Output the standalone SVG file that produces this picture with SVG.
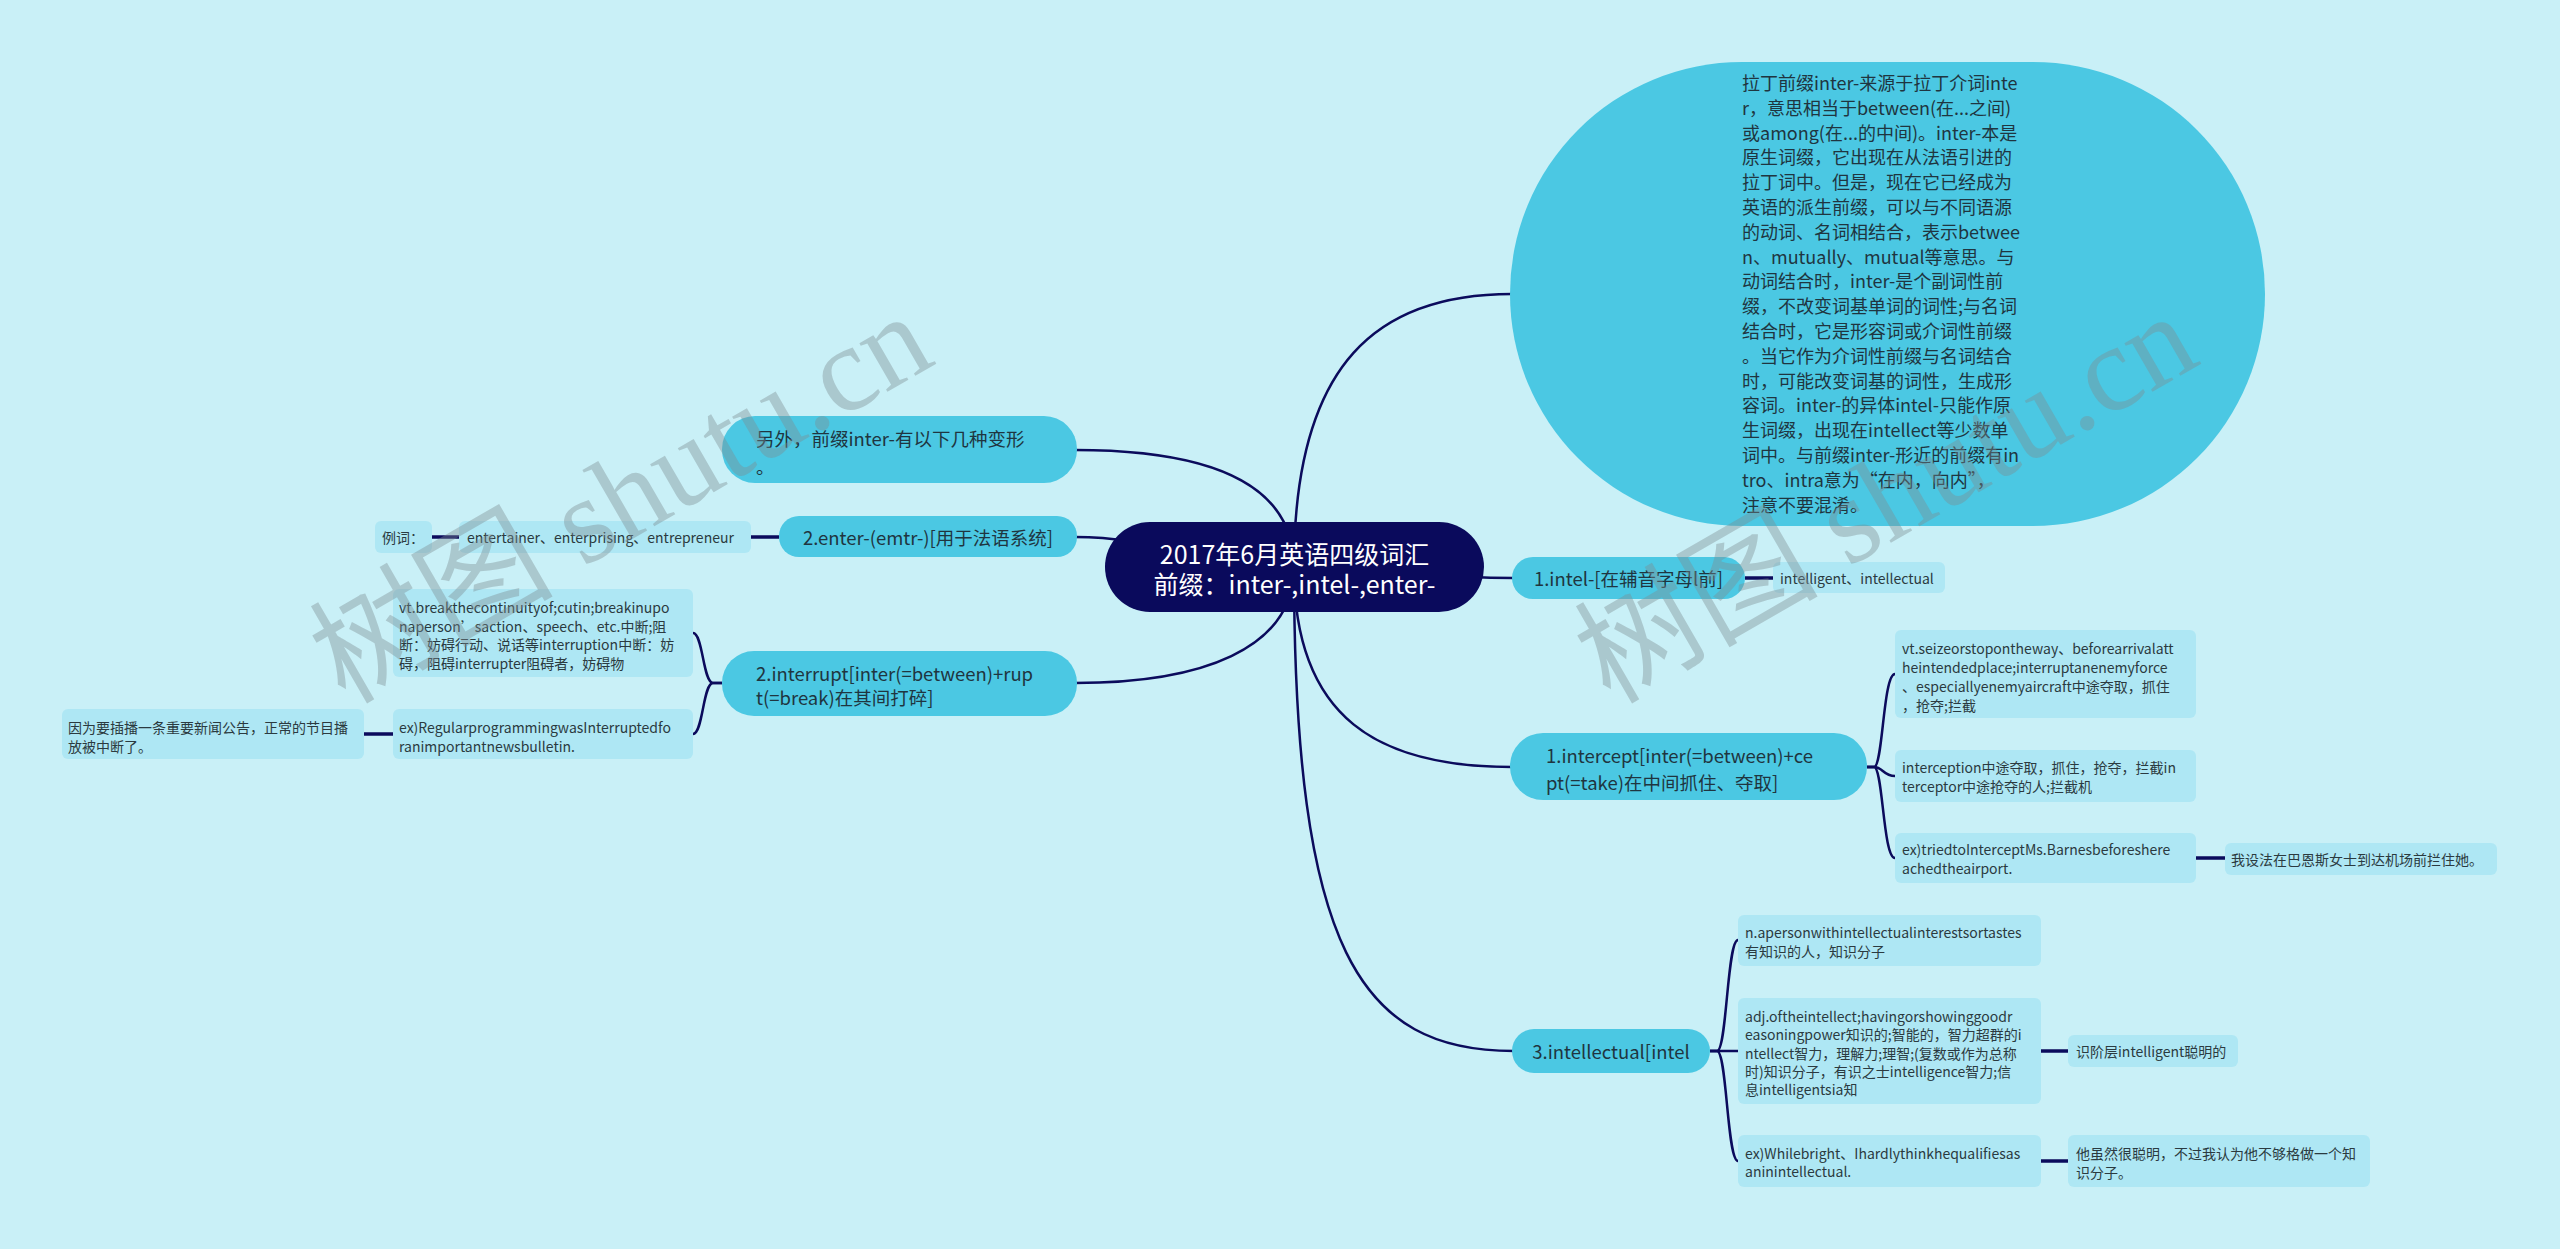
<svg xmlns="http://www.w3.org/2000/svg" width="2560" height="1249" viewBox="0 0 2560 1249">
<style>
text{font-family:"Noto Sans CJK SC","Noto Sans",sans-serif;}
.l1{fill:#4BC8E3;}
.leaf{fill:#AEE7F4;}
.t1{font-size:18.5px;fill:#1f3540;}
.tb{font-size:18px;fill:#1f3540;}
.tl{font-size:14px;fill:#2b3a40;}
.tr{font-size:25px;fill:#ffffff;}
.c{fill:none;stroke:#0B0B5C;stroke-width:2.5;}
.s{fill:none;stroke:#0B0B5C;stroke-width:3.5;}
.wm{font-family:"Liberation Serif","Noto Sans CJK SC",serif;font-size:122px;fill:#7d8c92;fill-opacity:0.4;}
</style>
<rect width="2560" height="1249" fill="#C9F0F7"/>
<g id="connectors">
<path class="c" d="M1294,567 C1294,360 1380,294 1512,294"/>
<path class="c" d="M1294,567 C1400,567 1420,578 1514,578"/>
<path class="c" d="M1294,567 C1294,720 1380,767 1512,767"/>
<path class="c" d="M1294,567 C1294,950 1360,1051 1514,1051"/>
<path class="c" d="M1294,567 C1294,470 1180,450 1075,450"/>
<path class="c" d="M1294,567 C1200,567 1160,537 1075,537"/>
<path class="c" d="M1294,567 C1294,650 1200,683 1075,683"/>
<path class="s" d="M1745,578 H1773"/>
<path class="c" d="M1867,767 H1874 C1883,767 1883,674 1895,674"/>
<path class="c" d="M1867,767 H1874 C1883,767 1883,776 1895,776"/>
<path class="c" d="M1867,767 H1874 C1883,767 1883,858 1895,858"/>
<path class="s" d="M2196,858 H2225"/>
<path class="c" d="M1710,1051 H1717 C1727,1051 1727,940 1738,940"/>
<path class="c" d="M1710,1051 H1717 C1727,1051 1727,1051 1738,1051"/>
<path class="c" d="M1710,1051 H1717 C1727,1051 1727,1161 1738,1161"/>
<path class="s" d="M2041,1051 H2068"/>
<path class="s" d="M2041,1161 H2068"/>
<path class="s" d="M779,537 H751"/>
<path class="s" d="M459,537 H432"/>
<path class="c" d="M722,683 H713 C703,683 703,633 693,633"/>
<path class="c" d="M722,683 H713 C703,683 703,734 693,734"/>
<path class="s" d="M393,734 H364"/>
</g>
<g id="root">
<rect x="1105" y="522" width="379" height="90" rx="45" fill="#0A0A5C"/>
<text class="tr" x="1294.5" y="553" text-anchor="middle" dominant-baseline="central">2017年6月英语四级词汇</text>
<text class="tr" x="1294.5" y="583" text-anchor="middle" dominant-baseline="central">前缀：inter-,intel-,enter-</text>
</g>
<g id="n-intro">
<rect class="l1" x="1510" y="62" width="755" height="464" rx="232"/>
<g class="tb" dominant-baseline="central">
<text x="1742" y="82">拉丁前缀inter-来源于拉丁介词inte</text>
<text x="1742" y="106.8">r，意思相当于between(在...之间)</text>
<text x="1742" y="131.6">或among(在...的中间)。inter-本是</text>
<text x="1742" y="156.4">原生词缀，它出现在从法语引进的</text>
<text x="1742" y="181.2">拉丁词中。但是，现在它已经成为</text>
<text x="1742" y="206">英语的派生前缀，可以与不同语源</text>
<text x="1742" y="230.8">的动词、名词相结合，表示betwee</text>
<text x="1742" y="255.6">n、mutually、mutual等意思。与</text>
<text x="1742" y="280.4">动词结合时，inter-是个副词性前</text>
<text x="1742" y="305.2">缀，不改变词基单词的词性;与名词</text>
<text x="1742" y="330">结合时，它是形容词或介词性前缀</text>
<text x="1742" y="354.8">。当它作为介词性前缀与名词结合</text>
<text x="1742" y="379.6">时，可能改变词基的词性，生成形</text>
<text x="1742" y="404.4">容词。inter-的异体intel-只能作原</text>
<text x="1742" y="429.2">生词缀，出现在intellect等少数单</text>
<text x="1742" y="454">词中。与前缀inter-形近的前缀有in</text>
<text x="1742" y="478.8">tro、intra意为“在内，向内”，</text>
<text x="1742" y="503.6">注意不要混淆。</text>
</g>
</g>
<g id="n-intel">
<rect class="l1" x="1512" y="557" width="233" height="42" rx="21"/>
<text class="t1" x="1628.5" y="578" text-anchor="middle" dominant-baseline="central">1.intel-[在辅音字母l前]</text>
</g>
<g id="n-intel-leaf">
<rect class="leaf" x="1773" y="562" width="172" height="31" rx="6"/>
<text class="tl" x="1780" y="578" dominant-baseline="central">intelligent、intellectual</text>
</g>
<g id="n-intercept">
<rect class="l1" x="1510" y="733" width="357" height="67" rx="33"/>
<text class="t1" x="1546" y="755" dominant-baseline="central">1.intercept[inter(=between)+ce</text>
<text class="t1" x="1546" y="782" dominant-baseline="central">pt(=take)在中间抓住、夺取]</text>
</g>
<g id="n-intercept-a">
<rect class="leaf" x="1895" y="630" width="301" height="88" rx="6"/>
<g class="tl" dominant-baseline="central">
<text x="1902" y="648">vt.seizeorstopontheway、beforearrivalatt</text>
<text x="1902" y="667">heintendedplace;interruptanenemyforce</text>
<text x="1902" y="686">、especiallyenemyaircraft中途夺取，抓住</text>
<text x="1902" y="705">，抢夺;拦截</text>
</g>
</g>
<g id="n-intercept-b">
<rect class="leaf" x="1895" y="750" width="301" height="52" rx="6"/>
<text class="tl" x="1902" y="767" dominant-baseline="central">interception中途夺取，抓住，抢夺，拦截in</text>
<text class="tl" x="1902" y="786" dominant-baseline="central">terceptor中途抢夺的人;拦截机</text>
</g>
<g id="n-intercept-c">
<rect class="leaf" x="1895" y="833" width="301" height="50" rx="6"/>
<text class="tl" x="1902" y="849" dominant-baseline="central">ex)triedtoInterceptMs.Barnesbeforeshere</text>
<text class="tl" x="1902" y="868" dominant-baseline="central">achedtheairport.</text>
</g>
<g id="n-intercept-d">
<rect class="leaf" x="2225" y="843" width="272" height="32" rx="6"/>
<text class="tl" x="2231" y="859" dominant-baseline="central">我设法在巴恩斯女士到达机场前拦住她。</text>
</g>
<g id="n-intellectual">
<rect class="l1" x="1512" y="1029" width="198" height="44" rx="22"/>
<text class="t1" x="1611" y="1051" text-anchor="middle" dominant-baseline="central">3.intellectual[intel</text>
</g>
<g id="n-intellectual-e">
<rect class="leaf" x="1738" y="915" width="303" height="51" rx="6"/>
<text class="tl" x="1745" y="932" dominant-baseline="central">n.apersonwithintellectualinterestsortastes</text>
<text class="tl" x="1745" y="951" dominant-baseline="central">有知识的人，知识分子</text>
</g>
<g id="n-intellectual-f">
<rect class="leaf" x="1738" y="998" width="303" height="106" rx="6"/>
<g class="tl" dominant-baseline="central">
<text x="1745" y="1016">adj.oftheintellect;havingorshowinggoodr</text>
<text x="1745" y="1034">easoningpower知识的;智能的，智力超群的i</text>
<text x="1745" y="1053">ntellect智力，理解力;理智;(复数或作为总称</text>
<text x="1745" y="1071">时)知识分子，有识之士intelligence智力;信</text>
<text x="1745" y="1089">息intelligentsia知</text>
</g>
</g>
<g id="n-intellectual-g">
<rect class="leaf" x="1738" y="1135" width="303" height="52" rx="6"/>
<text class="tl" x="1745" y="1153" dominant-baseline="central">ex)Whilebright、Ihardlythinkhequalifiesas</text>
<text class="tl" x="1745" y="1171" dominant-baseline="central">aninintellectual.</text>
</g>
<g id="n-intellectual-h">
<rect class="leaf" x="2068" y="1035" width="170" height="32" rx="6"/>
<text class="tl" x="2076" y="1051" dominant-baseline="central">识阶层intelligent聪明的</text>
</g>
<g id="n-intellectual-i">
<rect class="leaf" x="2068" y="1135" width="302" height="52" rx="6"/>
<text class="tl" x="2076" y="1153" dominant-baseline="central">他虽然很聪明，不过我认为他不够格做一个知</text>
<text class="tl" x="2076" y="1172" dominant-baseline="central">识分子。</text>
</g>
<g id="n-other">
<rect class="l1" x="722" y="416" width="355" height="67" rx="33"/>
<text class="t1" x="756" y="438" dominant-baseline="central">另外，前缀inter-有以下几种变形</text>
<text class="t1" x="756" y="466" dominant-baseline="central">。</text>
</g>
<g id="n-enter">
<rect class="l1" x="779" y="516" width="298" height="41" rx="20"/>
<text class="t1" x="928" y="537" text-anchor="middle" dominant-baseline="central">2.enter-(emtr-)[用于法语系统]</text>
</g>
<g id="n-enter-leaf">
<rect class="leaf" x="459" y="521" width="292" height="32" rx="6"/>
<text class="tl" x="467" y="537" dominant-baseline="central">entertainer、enterprising、entrepreneur</text>
</g>
<g id="n-enter-example">
<rect class="leaf" x="375" y="521" width="57" height="32" rx="6"/>
<text class="tl" x="382" y="537" dominant-baseline="central">例词：</text>
</g>
<g id="n-interrupt">
<rect class="l1" x="722" y="651" width="355" height="65" rx="32"/>
<text class="t1" x="756" y="673" dominant-baseline="central">2.interrupt[inter(=between)+rup</text>
<text class="t1" x="756" y="697" dominant-baseline="central">t(=break)在其间打碎]</text>
</g>
<g id="n-interrupt-j">
<rect class="leaf" x="393" y="589" width="300" height="88" rx="6"/>
<g class="tl" dominant-baseline="central">
<text x="399" y="607">vt.breakthecontinuityof;cutin;breakinupo</text>
<text x="399" y="626">naperson’saction、speech、etc.中断;阻</text>
<text x="399" y="644">断：妨碍行动、说话等interruption中断：妨</text>
<text x="399" y="663">碍，阻碍interrupter阻碍者，妨碍物</text>
</g>
</g>
<g id="n-interrupt-k">
<rect class="leaf" x="393" y="709" width="300" height="50" rx="6"/>
<text class="tl" x="399" y="727" dominant-baseline="central">ex)RegularprogrammingwasInterruptedfo</text>
<text class="tl" x="399" y="746" dominant-baseline="central">ranimportantnewsbulletin.</text>
</g>
<g id="n-interrupt-l">
<rect class="leaf" x="62" y="709" width="302" height="50" rx="6"/>
<text class="tl" x="68" y="727" dominant-baseline="central">因为要插播一条重要新闻公告，正常的节目播</text>
<text class="tl" x="68" y="746" dominant-baseline="central">放被中断了。</text>
</g>
<g id="watermark">
<text class="wm" transform="translate(345,705) rotate(-30)">树图 shutu.cn</text>
<text class="wm" transform="translate(1610,705) rotate(-30)">树图 shutu.cn</text>
</g>
</svg>
